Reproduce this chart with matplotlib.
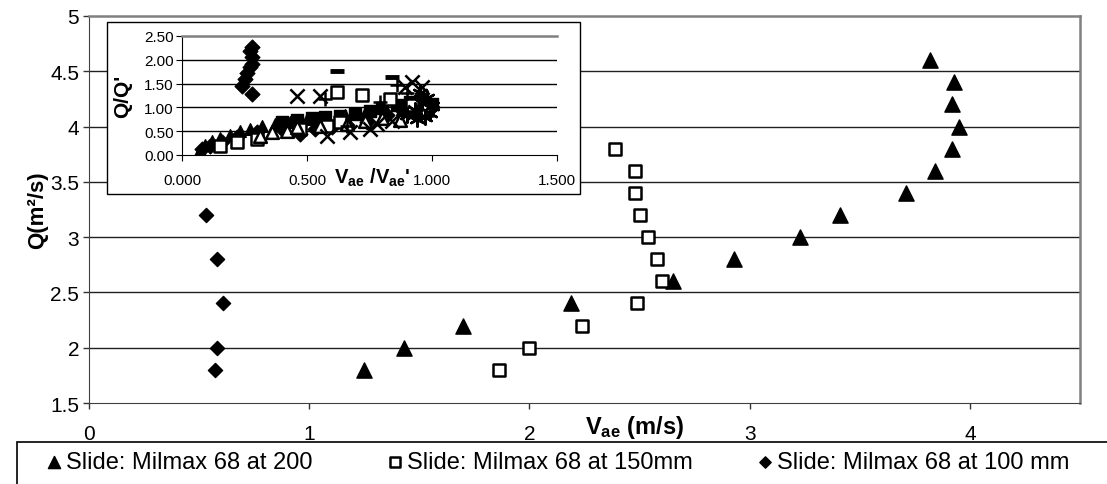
import matplotlib
matplotlib.use("Agg")
import matplotlib.pyplot as plt
from matplotlib.patches import Rectangle

plt.rcParams['font.family'] = ['Liberation Sans', 'DejaVu Sans']
plt.rcParams['mathtext.fontset'] = 'custom'
plt.rcParams['mathtext.rm'] = 'Liberation Sans'
plt.rcParams['mathtext.bf'] = 'Liberation Sans:bold'

# main chart: Vae (m/s) vs Q (m2/s)
v_200 = [1.25, 1.43, 1.70, 2.19, 2.65, 2.93, 3.23, 3.41, 3.71, 3.84, 3.92, 3.95, 3.92, 3.93, 3.82]
q_200 = [1.8, 2.0, 2.2, 2.4, 2.6, 2.8, 3.0, 3.2, 3.4, 3.6, 3.8, 4.0, 4.2, 4.4, 4.6]
v_150 = [1.86, 2.00, 2.24, 2.49, 2.60, 2.58, 2.54, 2.50, 2.48, 2.48, 2.39]
q_150 = [1.8, 2.0, 2.2, 2.4, 2.6, 2.8, 3.0, 3.2, 3.4, 3.6, 3.8]
v_100 = [0.57, 0.58, 0.61, 0.58, 0.53]
q_100 = [1.8, 2.0, 2.4, 2.8, 3.2]
labels = ['Slide: Milmax 68 at 200', 'Slide: Milmax 68 at 150mm', 'Slide: Milmax 68 at 100 mm']

# inset: Vae/Vae' vs Q/Q'
in_dia_x = [0.28, 0.27, 0.28, 0.28, 0.27, 0.26, 0.25, 0.24, 0.28,
            0.08, 0.11, 0.16, 0.22, 0.30, 0.40, 0.47, 0.53, 0.60, 0.66, 0.74, 0.82, 0.88, 0.94, 1.00]
in_dia_y = [2.27, 2.18, 2.05, 1.92, 1.85, 1.72, 1.60, 1.45, 1.28,
            0.12, 0.18, 0.28, 0.38, 0.48, 0.55, 0.45, 0.55, 0.58, 0.62, 0.70, 0.85, 0.95, 1.15, 1.00]
in_tri_x = [0.07, 0.09, 0.12, 0.15, 0.19, 0.23, 0.27, 0.32, 0.37, 0.43, 0.50, 0.57, 0.65, 0.73, 0.81, 0.88, 0.94, 0.99]
in_tri_y = [0.10, 0.22, 0.30, 0.36, 0.43, 0.50, 0.55, 0.60, 0.65, 0.70, 0.75, 0.79, 0.83, 0.88, 0.92, 0.97, 1.02, 1.05]
in_sqf_x = [0.40, 0.46, 0.52, 0.57, 0.63, 0.69, 0.75, 0.80, 0.86, 0.91, 0.96, 1.00]
in_sqf_y = [0.70, 0.74, 0.77, 0.79, 0.82, 0.86, 0.92, 0.98, 1.05, 1.12, 1.18, 1.08]
in_sqo_x = [0.15, 0.22, 0.30, 0.47, 0.58, 0.63, 0.62, 0.72, 0.83, 0.92, 0.98]
in_sqo_y = [0.19, 0.27, 0.33, 0.55, 0.60, 0.70, 1.32, 1.26, 1.18, 1.05, 0.95]
in_tro_x = [0.31, 0.36, 0.42, 0.46, 0.55, 0.66, 0.73, 0.80, 0.87]
in_tro_y = [0.40, 0.48, 0.50, 0.58, 0.61, 0.66, 0.72, 0.78, 0.74]
in_x_x = [0.46, 0.55, 0.58, 0.67, 0.75, 0.78, 0.84, 0.89, 0.92, 0.96, 0.93]
in_x_y = [1.24, 1.24, 0.40, 0.48, 0.55, 0.65, 0.72, 1.43, 1.53, 1.43, 0.90]
in_ast_x = [0.90, 0.93, 0.94, 0.96, 0.98, 0.99, 1.00, 0.95, 0.97]
in_ast_y = [0.85, 0.95, 0.76, 1.10, 1.20, 0.88, 1.02, 1.30, 0.80]
in_dash_x = [0.62, 0.84]
in_dash_y = [1.76, 1.63]
in_plus_x = [0.57, 0.66, 0.86, 0.90, 0.79]
in_plus_y = [1.18, 0.60, 1.48, 1.30, 1.12]

W, H = 1107, 485
fig = plt.figure(figsize=(W / 100, H / 100), dpi=100)

ax = fig.add_axes([89 / W, 1 - 404 / H, (1080 - 89) / W, (404 - 17) / H])
ax.set_xlim(0, 4.5)
ax.set_ylim(1.5, 5)
ax.set_xticks([0, 1, 2, 3, 4])
ax.set_yticks([1.5, 2, 2.5, 3, 3.5, 4, 4.5, 5])
ax.set_yticklabels(['1.5', '2', '2.5', '3', '3.5', '4', '4.5', '5'])
ax.tick_params(axis='x', direction='out', length=4, width=1, pad=11, labelsize=15, color='#333333')
ax.tick_params(axis='y', direction='out', length=4, width=1, pad=3, labelsize=15, color='#333333')
for y in [2, 2.5, 3, 3.5, 4, 4.5]:
    ax.axhline(y, color='#202020', lw=1, zorder=1)
ax.spines['top'].set_color('#808080')
ax.spines['right'].set_color('#808080')
ax.spines['top'].set_linewidth(1.8)
ax.spines['right'].set_linewidth(1.8)
ax.spines['left'].set_color('#404040')
ax.spines['bottom'].set_color('#404040')

h200 = ax.scatter(v_200, q_200, marker='^', s=120, c='black', zorder=3, label=labels[0])
h150 = ax.scatter(v_150, q_150, marker='s', s=72, facecolors='white', edgecolors='black',
                  linewidths=1.8, zorder=3, label=labels[1])
h100 = ax.scatter(v_100, q_100, marker='D', s=52, c='black', zorder=3, label=labels[2])

ax.set_ylabel('Q(m²/s)', fontsize=16, fontweight='bold')
ax.yaxis.set_label_coords(-41 / (1080 - 89), 0.5)
fig.text(634 / W, 1 - 428 / H, r'$\mathbf{V_{ae}}$ (m/s)', fontsize=17, fontweight='bold',
         ha='center', va='center')

# inset frame
ax.add_patch(Rectangle((107 / W, 1 - 195 / H), (580 - 107) / W, (195 - 23) / H,
                       transform=fig.transFigure, facecolor='white', edgecolor='black',
                       lw=1, zorder=10, clip_on=False))

ins = fig.add_axes([182 / W, 1 - 156 / H, (557 - 182) / W, (156 - 37) / H])
ins.set_xlim(0, 1.5)
ins.set_ylim(0, 2.5)
ins.set_xticks([0, 0.5, 1.0, 1.5])
ins.set_xticklabels(['0.000', '0.500', '1.000', '1.500'])
ins.set_yticks([0, 0.5, 1.0, 1.5, 2.0, 2.5])
ins.set_yticklabels(['0.00', '0.50', '1.00', '1.50', '2.00', '2.50'])
ins.tick_params(axis='x', direction='out', length=4, pad=9, labelsize=11)
ins.tick_params(axis='y', direction='out', length=4, pad=2, labelsize=11)
for y in [0.5, 1.0, 1.5, 2.0]:
    ins.axhline(y, color='black', lw=1, zorder=1)
ins.spines['top'].set_color('#808080')
ins.spines['top'].set_linewidth(1.8)
ins.spines['right'].set_visible(False)

ms = 70
ins.scatter(in_tri_x, in_tri_y, marker='^', s=ms, c='black', zorder=3)
ins.scatter(in_dia_x, in_dia_y, marker='D', s=ms * 0.8, c='black', zorder=3)
ins.scatter(in_sqf_x, in_sqf_y, marker='s', s=ms, c='black', zorder=3)
ins.scatter(in_sqo_x, in_sqo_y, marker='s', s=ms, facecolors='white', edgecolors='black',
            linewidths=1.8, zorder=4)
ins.scatter(in_tro_x, in_tro_y, marker='^', s=ms * 1.2, facecolors='white', edgecolors='black',
            linewidths=1.8, zorder=4)
ins.scatter(in_x_x, in_x_y, marker='x', s=ms * 1.5, c='black', linewidths=1.8, zorder=4)
ins.scatter(in_ast_x, in_ast_y, marker=(6, 2, 0), s=ms * 1.5, c='black', linewidths=1.8, zorder=4)
ins.scatter(in_dash_x, in_dash_y, marker='_', s=ms * 1.3, c='black', linewidths=3.5, zorder=4)
ins.scatter(in_plus_x, in_plus_y, marker='+', s=ms * 1.4, c='black', linewidths=1.8, zorder=4)

ins.set_ylabel("Q/Q'", fontsize=15, fontweight='bold')
ins.yaxis.set_label_coords(-50 / (557 - 182), 0.5)
fig.text(372 / W, 1 - 178 / H, r"$\mathbf{V_{ae}}$ /$\mathbf{V_{ae}}$'", fontsize=14.5,
         fontweight='bold', ha='center', va='center')

# legend box along the bottom
fig.patches.append(Rectangle((17 / W, -0.1), 1.0, 0.1 + 1 - 443 / H, transform=fig.transFigure,
                             facecolor='none', edgecolor='black', lw=1.2))
for h, mx in zip([h200, h150, h100], [52, 393, 763]):
    fig.legend(handles=[h], loc='center left', bbox_to_anchor=((mx - 10) / W, 1 - 463 / H),
               frameon=False, fontsize=17, handletextpad=0.0, handlelength=1.0,
               borderpad=0, borderaxespad=0, markerscale=0.8)

fig.savefig('out.png', dpi=100)
